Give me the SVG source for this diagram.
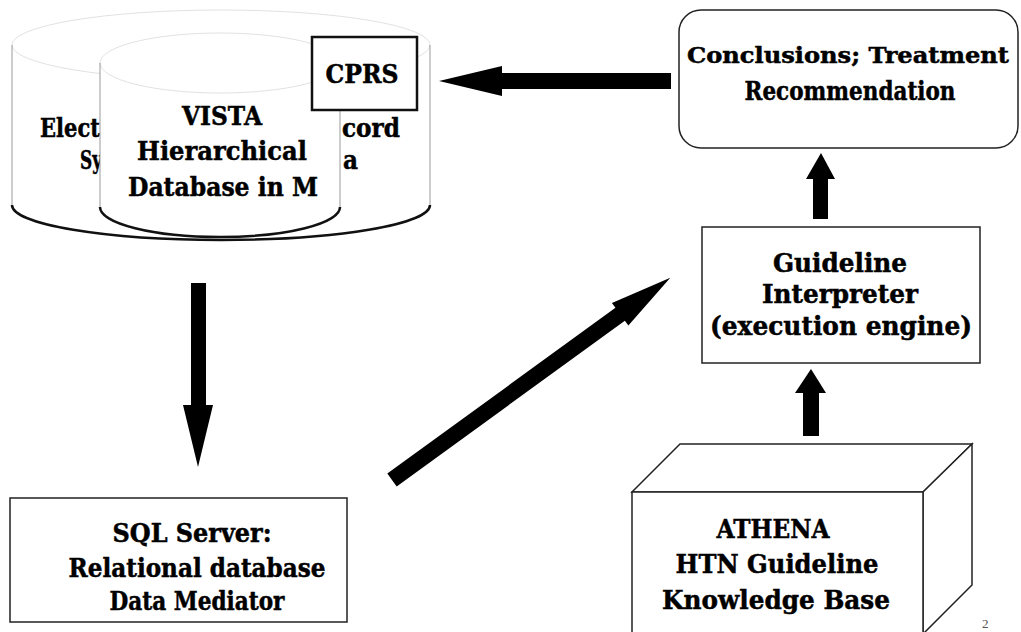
<svg xmlns="http://www.w3.org/2000/svg" width="1021" height="632" viewBox="0 0 1021 632">
<style>
.t{font-family:"DejaVu Serif","Liberation Serif",serif;font-weight:bold;font-size:26px;fill:#000;stroke:#000;stroke-width:0.5}
.m{text-anchor:middle}
.box{fill:#fff;stroke:#222;stroke-width:1.5}
.faint{fill:none;stroke:#e2e2e2;stroke-width:1}
.side{fill:none;stroke:#999;stroke-width:1}
.base{fill:none;stroke:#111;stroke-width:2.5}
.arr{fill:#000}
</style>
<rect width="1021" height="632" fill="#fff"/>

<g id="ehr-cylinder">
  <path d="M12,45 L12,205 A209,35 0 0 0 430,205 L430,45" fill="#fff" stroke="none"/>
  <ellipse cx="221" cy="45" rx="209" ry="35" class="faint"/>
  <path d="M12,45 L12,205 M430,45 L430,205" class="side"/>
  <path d="M12,205 A209,35 0 0 0 430,205" class="base"/>
  <text class="t" x="40" y="137" textLength="60" lengthAdjust="spacingAndGlyphs">Elect</text>
  <text class="t" x="342" y="137" textLength="58" lengthAdjust="spacingAndGlyphs">cord</text>
  <text class="t" x="80" y="169" textLength="22" lengthAdjust="spacingAndGlyphs">Sy</text>
  <text class="t" x="343" y="169" textLength="15" lengthAdjust="spacingAndGlyphs">a</text>
</g>

<g id="vista-cylinder">
  <path d="M100,63 L100,207 A120,30 0 0 0 340,207 L340,63 A120,30 0 0 0 100,63 Z" fill="#fff" stroke="none"/>
  <ellipse cx="220" cy="63" rx="120" ry="30" class="faint"/>
  <path d="M100,63 L100,207 M340,63 L340,207" class="side"/>
  <path d="M100,207 A120,30 0 0 0 340,207" class="base"/>
  <text class="t m" x="222" y="125" textLength="80" lengthAdjust="spacingAndGlyphs">VISTA</text>
  <text class="t m" x="222" y="160" textLength="170" lengthAdjust="spacingAndGlyphs">Hierarchical</text>
  <text class="t m" x="223" y="196" textLength="190" lengthAdjust="spacingAndGlyphs">Database in M</text>
</g>

<g id="cprs">
  <rect x="312" y="37" width="105" height="73" fill="#fff" stroke="#111" stroke-width="2.5"/>
  <text class="t m" x="362" y="83" textLength="73" lengthAdjust="spacingAndGlyphs">CPRS</text>
</g>

<g id="conclusions">
  <rect x="679" y="10" width="339" height="138" rx="22" class="box"/>
  <text class="t m" x="848" y="63" style="font-size:22px" textLength="322" lengthAdjust="spacingAndGlyphs">Conclusions; Treatment</text>
  <text class="t m" x="850" y="100" textLength="211" lengthAdjust="spacingAndGlyphs">Recommendation</text>
</g>

<g id="guideline-interpreter">
  <rect x="702" y="227" width="278" height="136" class="box"/>
  <text class="t m" x="840" y="272" textLength="134" lengthAdjust="spacingAndGlyphs">Guideline</text>
  <text class="t m" x="840" y="303" textLength="156" lengthAdjust="spacingAndGlyphs">Interpreter</text>
  <text class="t m" x="841" y="335" textLength="262" lengthAdjust="spacingAndGlyphs">(execution engine)</text>
</g>

<g id="sql-server">
  <rect x="10" y="498" width="337" height="124" class="box"/>
  <text class="t m" x="192" y="542" textLength="159" lengthAdjust="spacingAndGlyphs">SQL Server:</text>
  <text class="t m" x="197" y="577" textLength="257" lengthAdjust="spacingAndGlyphs">Relational database</text>
  <text class="t m" x="197" y="610" textLength="175" lengthAdjust="spacingAndGlyphs">Data Mediator</text>
</g>

<g id="athena">
  <polygon points="632,492 680,444 972,444 923,492" class="box"/>
  <polygon points="923,492 972,444 972,585 923,634" class="box"/>
  <polygon points="632,640 632,492 923,492 923,640" class="box"/>
  <text class="t m" x="773" y="538" textLength="113" lengthAdjust="spacingAndGlyphs">ATHENA</text>
  <text class="t m" x="777" y="573" textLength="203" lengthAdjust="spacingAndGlyphs">HTN Guideline</text>
  <text class="t m" x="776" y="609" textLength="228" lengthAdjust="spacingAndGlyphs">Knowledge Base</text>
</g>

<g id="connectors">
  <polygon class="arr" points="191,283 206,283 206,405 213,405 198,467 183,405 191,405"/>
  <polygon class="arr" points="671,73 502,73 502,66 439,81 502,96 502,89 671,89"/>
  <polygon class="arr" transform="translate(392,480) rotate(-36)" points="0,-8 282,-8 282,-14 344,0 282,14 282,8 0,8"/>
  <polygon class="arr" points="813,219 813,179 806,179 821,153 835,179 828,179 828,219"/>
  <polygon class="arr" points="803,436 803,393 795,393 811,369 826,393 819,393 819,436"/>
</g>

<text x="982" y="628" font-family="Liberation Serif, serif" font-size="13" fill="#555">2</text>
</svg>
